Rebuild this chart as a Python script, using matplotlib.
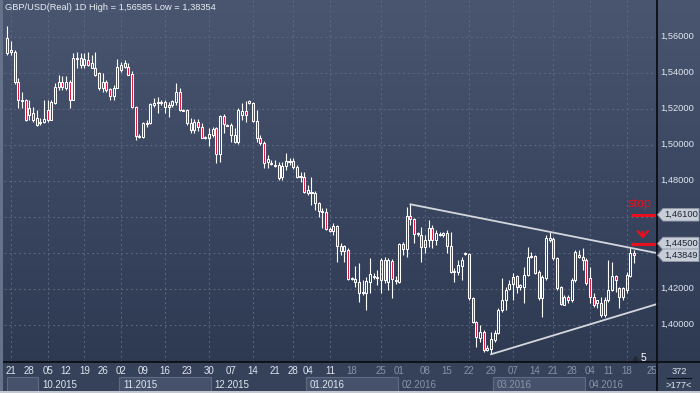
import numpy as np
import matplotlib
matplotlib.use('Agg')
import matplotlib.pyplot as plt
from matplotlib.patches import Rectangle, Polygon
from matplotlib.colors import LinearSegmentedColormap

# ---------------- data ----------------
opens = [
1.5509, 1.5525, 1.5514, 1.5347, 1.5247, 1.5247, 1.5164, 1.5175, 1.5147, 1.5120,
1.5125, 1.5192, 1.5136, 1.5231, 1.5320, 1.5347, 1.5314, 1.5347, 1.5247, 1.5481,
1.5481, 1.5442, 1.5470, 1.5425, 1.5425, 1.5397, 1.5314, 1.5347, 1.5309, 1.5270,
1.5314, 1.5442, 1.5431, 1.5431, 1.5392, 1.5209, 1.5042, 1.5042, 1.5120, 1.5120,
1.5220, 1.5231, 1.5236, 1.5236, 1.5209, 1.5220, 1.5236, 1.5292, 1.5192, 1.5192,
1.5120, 1.5081, 1.5125, 1.5097, 1.5036, 1.5036, 1.5053, 1.5092, 1.4947, 1.5159,
1.5109, 1.5053, 1.5053, 1.5014, 1.5164, 1.5186, 1.5231, 1.5231, 1.5131, 1.5036,
1.5009, 1.4903, 1.4897, 1.4886, 1.4886, 1.4820, 1.4881, 1.4909, 1.4909, 1.4875,
1.4820, 1.4820, 1.4731, 1.4736, 1.4731, 1.4675, 1.4631, 1.4625, 1.4531, 1.4520,
1.4547, 1.4436, 1.4409, 1.4414, 1.4259, 1.4253, 1.4236, 1.4175, 1.4175, 1.4236,
1.4264, 1.4264, 1.4247, 1.4359, 1.4236, 1.4353, 1.4242, 1.4236, 1.4447, 1.4420,
1.4603, 1.4586, 1.4503, 1.4497, 1.4431, 1.4470, 1.4536, 1.4470, 1.4503, 1.4497,
1.4509, 1.4436, 1.4292, 1.4292, 1.4325, 1.4392, 1.4392, 1.4147, 1.4014, 1.3925,
1.3959, 1.3859, 1.3864, 1.3914, 1.3953, 1.4081, 1.4136, 1.4197, 1.4225, 1.4270,
1.4209, 1.4209, 1.4275, 1.4381, 1.4381, 1.4292, 1.4147, 1.4259, 1.4470, 1.4475,
1.4370, 1.4209, 1.4109, 1.4153, 1.4136, 1.4247, 1.4375, 1.4375, 1.4359, 1.4259,
1.4153, 1.4120, 1.4120, 1.4053, 1.4136, 1.4192, 1.4270, 1.4203, 1.4153, 1.4192,
1.4270, 1.4397]

highs = [
1.5659, 1.5575, 1.5525, 1.5370, 1.5292, 1.5253, 1.5247, 1.5209, 1.5192, 1.5147,
1.5247, 1.5247, 1.5247, 1.5342, 1.5386, 1.5381, 1.5381, 1.5359, 1.5509, 1.5514,
1.5509, 1.5509, 1.5514, 1.5497, 1.5514, 1.5403, 1.5397, 1.5359, 1.5314, 1.5331,
1.5475, 1.5459, 1.5470, 1.5453, 1.5409, 1.5214, 1.5059, 1.5125, 1.5136, 1.5231,
1.5259, 1.5264, 1.5247, 1.5247, 1.5236, 1.5247, 1.5342, 1.5314, 1.5197, 1.5197,
1.5147, 1.5142, 1.5142, 1.5120, 1.5047, 1.5092, 1.5097, 1.5095, 1.5162, 1.5170,
1.5114, 1.5120, 1.5092, 1.5203, 1.5231, 1.5242, 1.5247, 1.5236, 1.5192, 1.5053,
1.5020, 1.4942, 1.4914, 1.4914, 1.4903, 1.4903, 1.4953, 1.4925, 1.4925, 1.4886,
1.4847, 1.4847, 1.4775, 1.4820, 1.4742, 1.4681, 1.4647, 1.4647, 1.4542, 1.4564,
1.4553, 1.4453, 1.4442, 1.4425, 1.4264, 1.4325, 1.4342, 1.4247, 1.4264, 1.4370,
1.4286, 1.4303, 1.4370, 1.4375, 1.4370, 1.4364, 1.4270, 1.4453, 1.4459, 1.4653,
1.4668, 1.4592, 1.4514, 1.4542, 1.4497, 1.4581, 1.4553, 1.4525, 1.4514, 1.4514,
1.4525, 1.4514, 1.4314, 1.4359, 1.4375, 1.4403, 1.4397, 1.4153, 1.4020, 1.3997,
1.3970, 1.3886, 1.3959, 1.3970, 1.4092, 1.4259, 1.4209, 1.4247, 1.4286, 1.4275,
1.4225, 1.4320, 1.4431, 1.4403, 1.4386, 1.4303, 1.4275, 1.4497, 1.4514, 1.4486,
1.4375, 1.4212, 1.4164, 1.4164, 1.4259, 1.4414, 1.4414, 1.4425, 1.4370, 1.4320,
1.4175, 1.4136, 1.4153, 1.4153, 1.4359, 1.4347, 1.4275, 1.4209, 1.4209, 1.4292,
1.4425, 1.4414]

lows = [
1.5497, 1.5497, 1.5336, 1.5203, 1.5203, 1.5131, 1.5136, 1.5125, 1.5103, 1.5109,
1.5120, 1.5125, 1.5136, 1.5225, 1.5303, 1.5303, 1.5303, 1.5203, 1.5247, 1.5425,
1.5425, 1.5425, 1.5436, 1.5425, 1.5381, 1.5303, 1.5292, 1.5292, 1.5247, 1.5247,
1.5314, 1.5403, 1.5425, 1.5386, 1.5203, 1.5025, 1.5036, 1.5036, 1.5097, 1.5114,
1.5209, 1.5175, 1.5220, 1.5175, 1.5153, 1.5209, 1.5220, 1.5186, 1.5186, 1.5109,
1.5064, 1.5064, 1.5075, 1.5036, 1.5031, 1.4992, 1.5042, 1.4897, 1.4903, 1.5064,
1.5103, 1.5014, 1.5009, 1.5003, 1.5136, 1.5125, 1.5225, 1.5125, 1.5014, 1.4997,
1.4870, 1.4870, 1.4886, 1.4875, 1.4803, 1.4803, 1.4859, 1.4886, 1.4864, 1.4814,
1.4792, 1.4731, 1.4720, 1.4664, 1.4636, 1.4597, 1.4536, 1.4525, 1.4514, 1.4497,
1.4347, 1.4386, 1.4347, 1.4247, 1.4247, 1.4209, 1.4125, 1.4164, 1.4081, 1.4175,
1.4253, 1.4220, 1.4175, 1.4231, 1.4192, 1.4147, 1.4225, 1.4231, 1.4386, 1.4375,
1.4553, 1.4453, 1.4492, 1.4347, 1.4397, 1.4431, 1.4425, 1.4442, 1.4492, 1.4486,
1.4397, 1.4286, 1.4236, 1.4275, 1.4247, 1.4386, 1.4136, 1.4009, 1.3875, 1.3903,
1.3847, 1.3853, 1.3835, 1.3903, 1.3947, 1.4070, 1.4081, 1.4192, 1.4136, 1.4175,
1.4192, 1.4120, 1.4272, 1.4370, 1.4281, 1.4136, 1.4042, 1.4247, 1.4459, 1.4359,
1.4192, 1.4109, 1.4106, 1.4120, 1.4125, 1.4236, 1.4370, 1.4303, 1.4220, 1.4120,
1.4097, 1.4092, 1.4042, 1.4042, 1.4125, 1.4189, 1.4181, 1.4092, 1.4136, 1.4175,
1.4264, 1.4342]

closes = [
1.5592, 1.5514, 1.5347, 1.5247, 1.5242, 1.5136, 1.5203, 1.5136, 1.5109, 1.5125,
1.5142, 1.5136, 1.5236, 1.5320, 1.5347, 1.5320, 1.5347, 1.5247, 1.5481, 1.5475,
1.5442, 1.5475, 1.5442, 1.5453, 1.5386, 1.5314, 1.5347, 1.5303, 1.5270, 1.5314,
1.5431, 1.5414, 1.5453, 1.5386, 1.5209, 1.5047, 1.5047, 1.5120, 1.5118, 1.5225,
1.5231, 1.5236, 1.5233, 1.5209, 1.5220, 1.5242, 1.5292, 1.5192, 1.5190, 1.5120,
1.5081, 1.5125, 1.5097, 1.5036, 1.5038, 1.5059, 1.5086, 1.4947, 1.5159, 1.5114,
1.5107, 1.5109, 1.5014, 1.5192, 1.5186, 1.5164, 1.5242, 1.5131, 1.5036, 1.5009,
1.4897, 1.4920, 1.4895, 1.4881, 1.4814, 1.4881, 1.4909, 1.4906, 1.4875, 1.4820,
1.4822, 1.4736, 1.4747, 1.4731, 1.4675, 1.4631, 1.4625, 1.4531, 1.4520, 1.4547,
1.4436, 1.4409, 1.4436, 1.4253, 1.4255, 1.4236, 1.4175, 1.4181, 1.4242, 1.4281,
1.4266, 1.4262, 1.4359, 1.4247, 1.4359, 1.4253, 1.4244, 1.4447, 1.4420, 1.4603,
1.4586, 1.4503, 1.4506, 1.4431, 1.4470, 1.4536, 1.4470, 1.4509, 1.4501, 1.4509,
1.4436, 1.4292, 1.4297, 1.4331, 1.4359, 1.4397, 1.4147, 1.4014, 1.3931, 1.3959,
1.3859, 1.3870, 1.3920, 1.3953, 1.4081, 1.4136, 1.4192, 1.4225, 1.4264, 1.4209,
1.4220, 1.4275, 1.4375, 1.4379, 1.4286, 1.4147, 1.4264, 1.4481, 1.4481, 1.4370,
1.4203, 1.4112, 1.4153, 1.4136, 1.4247, 1.4403, 1.4386, 1.4359, 1.4231, 1.4153,
1.4109, 1.4134, 1.4053, 1.4136, 1.4192, 1.4270, 1.4247, 1.4153, 1.4203, 1.4275,
1.4397, 1.4385]

# week labels (day of month) and candle index where each week starts
week_labels = ['21', '28', '05', '12', '19', '26', '02', '09', '16', '23', '30',
               '07', '14', '21', '28', '04', '11', '18', '25', '01', '08', '15',
               '22', '29', '07', '14', '21', '28', '04', '11', '18', '25']
week_idx = [1, 6, 11, 16, 21, 26, 31, 37, 43, 49, 55, 61, 67, 73, 78, 82, 88,
            94, 102, 107, 114, 120, 126, 132, 138, 144, 149, 154, 159, 164, 169, 176]
month_labels = ['', '10.2015', '11.2015', '12.2015', '01.2016', '02.2016', '03.2016', '04.2016']
month_idx = [-1, 9, 31, 56, 82, 107, 133, 158]

price_ticks = [1.40, 1.42, 1.44, 1.46, 1.48, 1.50, 1.52, 1.54, 1.56]
title = 'GBP/USD(Real) 1D High = 1,56585 Low = 1,38354'

# trend lines (start index, start price, end price at right edge)
upper_line = [110, 1.4668, 1.4397]
lower_line = [132, 1.3835, 1.4114]
stop_level = 1.4610
entry_level = 1.4450
last_price = 1.43849

# ---------------- style ----------------
W, H = 700, 393
RED = '#dc143c'
LINE_RED = '#e8101e'
TXT = '#dfe6ef'
DIM = '#8793a8'
FS = 6.7
plt.rcParams['font.family'] = ['Liberation Sans', 'DejaVu Sans']

fig = plt.figure(figsize=(W / 100, H / 100), dpi=100)

bg = fig.add_axes([0, 0, 1, 1], zorder=0)
bg.set_xlim(0, W); bg.set_ylim(0, H); bg.axis('off')
grad = np.linspace(0, 1, 256).reshape(-1, 1)
cmap = LinearSegmentedColormap.from_list('bg', ['#2c374f', '#3a4660', '#4a566f'])
bg.imshow(grad, extent=[0, W, 0, H], origin='lower', cmap=cmap, aspect='auto')

n = len(opens)
x = np.arange(n)
XMIN, XMAX = -0.9, 177.27
ax = fig.add_axes([4 / W, 31 / H, 653 / W, 362 / H], zorder=1)
ax.patch.set_alpha(0)
ax.set_xlim(XMIN, XMAX)
ax.set_ylim(1.3792, 1.5803)
for s in ax.spines.values():
    s.set_visible(False)
ax.set_xticks([]); ax.set_yticks([])

# grid
for p in price_ticks:
    ax.axhline(p, color='#5d6983', lw=0.7, ls=(0, (2, 3)), zorder=1)
for i in week_idx[::2]:
    ax.axvline(i, color='#5d6983', lw=0.7, ls=(0, (2, 3)), zorder=1)

# candles
bw = 0.55
for i in range(n):
    o, h, l, c = opens[i], highs[i], lows[i], closes[i]
    top, bot = max(o, c), min(o, c)
    if top - bot < 0.0006:
        mid = (top + bot) / 2
        top, bot = mid + 0.0003, mid - 0.0003
    ax.vlines(x[i], top, max(h, top), color='white', lw=0.8, zorder=3)
    ax.vlines(x[i], min(l, bot), bot, color='white', lw=0.8, zorder=3)
    fc = RED if c < o else 'none'
    ax.add_patch(Rectangle((x[i] - bw / 2, bot), bw, top - bot, facecolor=fc,
                           edgecolor='white', lw=0.75, zorder=4))

# trend lines
ax.plot([upper_line[0], XMAX], upper_line[1:], color='#d4d8de', lw=1.3, zorder=5, clip_on=False)
ax.plot([lower_line[0], XMAX], lower_line[1:], color='#d4d8de', lw=1.3, zorder=5, clip_on=False)

# stop / entry markers
ax.hlines([stop_level, entry_level], 170.1, XMAX, color=LINE_RED, lw=2.2, zorder=6, clip_on=False)
ax.annotate('', xy=(173.4, 1.4462), xytext=(173.4, 1.4530),
            arrowprops=dict(arrowstyle='->,head_length=0.45,head_width=0.4', color=LINE_RED,
                            lw=1.7, mutation_scale=9), zorder=6)
ax.text(172.6, 1.4668, 'stop', color=LINE_RED, fontsize=9, ha='center', va='center', zorder=6)

# ---------------- overlay (pixel space) ----------------
ov = fig.add_axes([0, 0, 1, 1], zorder=3)
ov.set_xlim(0, W); ov.set_ylim(0, H); ov.axis('off')
ov.patch.set_alpha(0)
inv = ov.transData.inverted()


def to_px(k, p):
    return inv.transform(ax.transData.transform((k, p)))


# bottom band
ov.add_patch(Rectangle((0, 0), W, 31, facecolor='#36425a', edgecolor='none', zorder=1))
edges = month_idx + [XMAX + 0.5]
for j in range(len(month_labels)):
    x0 = max(to_px(edges[j] - 0.5, 1.4)[0], 7)
    x1 = min(to_px(edges[j + 1] - 0.5, 1.4)[0], 657)
    if j % 2 == 0:
        ov.add_patch(Rectangle((x0, 1.5), x1 - x0, 14.5, facecolor='#46526b',
                               edgecolor='#5f6b82', lw=0.8, zorder=2))
    col = TXT if j <= 4 else DIM
    ov.text(x0 + 4, 8.5, month_labels[j], color=col, fontsize=FS + 0.3, va='center', ha='left', zorder=3)
for lab, k in zip(week_labels, week_idx):
    px = to_px(k, 1.4)[0]
    col = TXT if k <= 88 else DIM
    ov.text(px, 21.5, lab, color=col, fontsize=FS + 0.3, ha='center', va='center', zorder=3)

# frame lines
ov.plot([0, W], [31, 31], color='#0b0e14', lw=1.3, zorder=4)
ov.plot([657, 657], [0, H], color='#0b0e14', lw=1.3, zorder=4)
ov.add_patch(Rectangle((0, 0), 2.5, H, facecolor='#66718a', edgecolor='none', zorder=5))
ov.add_patch(Rectangle((0, 0), W, 2, facecolor='#c3c8d0', edgecolor='none', zorder=5))

# right price labels (those hidden behind the price tags are skipped)
tag_levels = [stop_level, entry_level, last_price]
for p in price_ticks:
    y = to_px(0, p)[1]
    if any(abs(y - to_px(0, t)[1]) < 9 for t in tag_levels):
        continue
    ov.text(660, y, f'{p:.5f}'.replace('.', ','), color=TXT, fontsize=FS, ha='left', va='center', zorder=3)


def tag(p, txt):
    y = to_px(0, p)[1]
    ov.add_patch(Polygon([(657.5, y), (663, y + 6.3), (699, y + 6.3), (699, y - 6.3), (663, y - 6.3)],
                         closed=True, facecolor='#c7ced8', edgecolor='#8e98a8', lw=0.6, zorder=6))
    ov.text(664, y, txt, color='#1b2333', fontsize=FS, ha='left', va='center', zorder=7)


tag(stop_level, '1,46100')
tag(entry_level, '1,44500')
tag(last_price, '1,43849')

# bottom-right counter box
ov.text(679, 21, '372', color=TXT, fontsize=FS, ha='center', va='center', zorder=3)
ov.plot([667, 691], [15.5, 15.5], color='#0b0e14', lw=0.8, zorder=3)
ov.text(679, 8, '>177<', color=TXT, fontsize=FS, ha='center', va='center', zorder=3)

# bar count marker
ov.plot([634.5], [H - 359], marker='^', color='#232a36', ms=5, zorder=3)
ov.text(643, H - 358, '5', color='white', fontsize=7.5, ha='center', va='center', zorder=3)

# title
ov.text(5, H - 8, title, color='#e8edf4', fontsize=6.7, ha='left', va='center', zorder=3)

fig.savefig('out.png', dpi=100)
